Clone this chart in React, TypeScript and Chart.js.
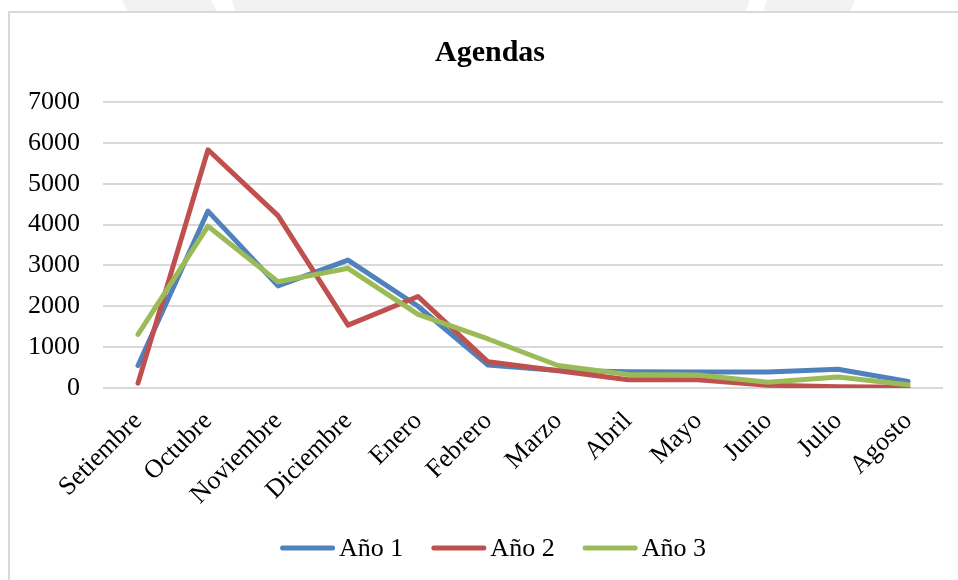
import React, { useEffect, useRef } from "react";
import { Chart, registerables } from "chart.js";

Chart.register(...registerables);

// Months of the agenda year
const meses = [
  "Setiembre",
  "Octubre",
  "Noviembre",
  "Diciembre",
  "Enero",
  "Febrero",
  "Marzo",
  "Abril",
  "Mayo",
  "Junio",
  "Julio",
  "Agosto",
];

// Agendas per month, one list per year
const ano1 = [550, 4330, 2500, 3130, 2000, 560, 430, 400, 390, 390, 460, 160];
const ano2 = [120, 5830, 4220, 1540, 2240, 640, 420, 200, 200, 70, 30, 20];
const ano3 = [1310, 3960, 2600, 2930, 1800, 1200, 550, 330, 320, 140, 270, 80];

const serieNombres = ["Año 1", "Año 2", "Año 3"];
const serieColores = ["#4F81BD", "#C0504D", "#9BBB59"];

const titulo = "Agendas";

const yMin = 0;
const yMax = 7000;
const yPaso = 1000;

const serif = '"Liberation Serif", "Times New Roman", Times, serif';

// Title above the plot and legend under the axis labels
const rotulos = {
  id: "rotulos",
  afterDraw(chart: any) {
    const { ctx } = chart;
    ctx.save();

    ctx.fillStyle = "#000";
    ctx.font = `bold 30px ${serif}`;
    ctx.textAlign = "center";
    ctx.textBaseline = "middle";
    ctx.fillText(titulo, 490, 53);

    const trazo = 55;
    const sepTexto = 4;
    const sepItem = 28;
    const centroX = 493;
    const y = 548;
    ctx.font = `26px ${serif}`;
    const items = chart.data.datasets.map((ds: any) => ({
      label: ds.label as string,
      color: ds.borderColor as string,
      w: ctx.measureText(ds.label).width,
    }));
    const total =
      items.reduce((s: number, it: any) => s + trazo + sepTexto + it.w, 0) +
      sepItem * (items.length - 1);
    let x = centroX - total / 2;
    for (const it of items) {
      ctx.strokeStyle = it.color;
      ctx.lineWidth = 5;
      ctx.lineCap = "round";
      ctx.beginPath();
      ctx.moveTo(x + 2.5, y);
      ctx.lineTo(x + trazo - 2.5, y);
      ctx.stroke();
      ctx.fillStyle = "#000";
      ctx.textAlign = "left";
      ctx.textBaseline = "middle";
      ctx.fillText(it.label, x + trazo + sepTexto, y + 1);
      x += trazo + sepTexto + it.w + sepItem;
    }
    ctx.restore();
  },
};

function GraficoAgendas() {
  const canvasRef = useRef<HTMLCanvasElement | null>(null);

  useEffect(() => {
    if (!canvasRef.current) return;
    const series = [ano1, ano2, ano3];
    const chart = new Chart(canvasRef.current, {
      type: "line",
      data: {
        labels: meses,
        datasets: series.map((valores, i) => ({
          label: serieNombres[i],
          data: valores,
          borderColor: serieColores[i],
          backgroundColor: serieColores[i],
          borderWidth: 5,
          borderJoinStyle: "round" as const,
          borderCapStyle: "round" as const,
          pointRadius: 0,
          pointHoverRadius: 0,
          tension: 0,
          fill: false,
          order: series.length - i,
        })),
      },
      options: {
        responsive: false,
        animation: false,
        events: [],
        layout: {
          autoPadding: false,
          padding: { left: 0, right: 15, top: 102, bottom: 60 },
        },
        plugins: {
          legend: { display: false },
          tooltip: { enabled: false },
          title: { display: false },
        },
        scales: {
          x: {
            offset: true,
            grid: { display: false, drawTicks: false },
            border: { display: false },
            ticks: {
              autoSkip: false,
              minRotation: 45,
              maxRotation: 45,
              color: "#000",
              font: { family: serif, size: 26 },
              padding: 18,
            },
            afterFit: (s: any) => {
              s.height = 132;
            },
          },
          y: {
            min: yMin,
            max: yMax,
            ticks: {
              stepSize: yPaso,
              color: "#000",
              font: { family: serif, size: 26 },
              padding: 23,
              callback: (v: any) => String(v),
            },
            grid: { color: "#d9d9d9", lineWidth: 2, drawTicks: false },
            border: { display: false },
            afterFit: (s: any) => {
              s.width = 103;
            },
          },
        },
      },
      plugins: [rotulos],
    });
    return () => chart.destroy();
  }, []);

  return (
    <div
      style={{
        position: "fixed",
        left: 0,
        top: 0,
        width: 958,
        height: 580,
        overflow: "hidden",
        background: "#fff",
      }}
    >
      <svg
        width={958}
        height={12}
        style={{ position: "absolute", left: 0, top: 0, display: "block" }}
      >
        <polygon points="122,0 211,0 217,12 128,12" fill="#f2f2f2" />
        <polygon points="232,0 750,0 745,12 236,12" fill="#f2f2f2" />
        <polygon points="767,0 855,0 850,12 763,12" fill="#f2f2f2" />
      </svg>
      <div
        style={{
          position: "absolute",
          left: 8,
          top: 11,
          width: 1000,
          height: 1000,
          borderTop: "2px solid #d9d9d9",
          borderLeft: "2px solid #d9d9d9",
          boxSizing: "border-box",
        }}
      />
      <canvas
        ref={canvasRef}
        width={958}
        height={580}
        style={{ position: "absolute", left: 0, top: 0, display: "block" }}
      />
    </div>
  );
}

export default function App() {
  return <GraficoAgendas />;
}
